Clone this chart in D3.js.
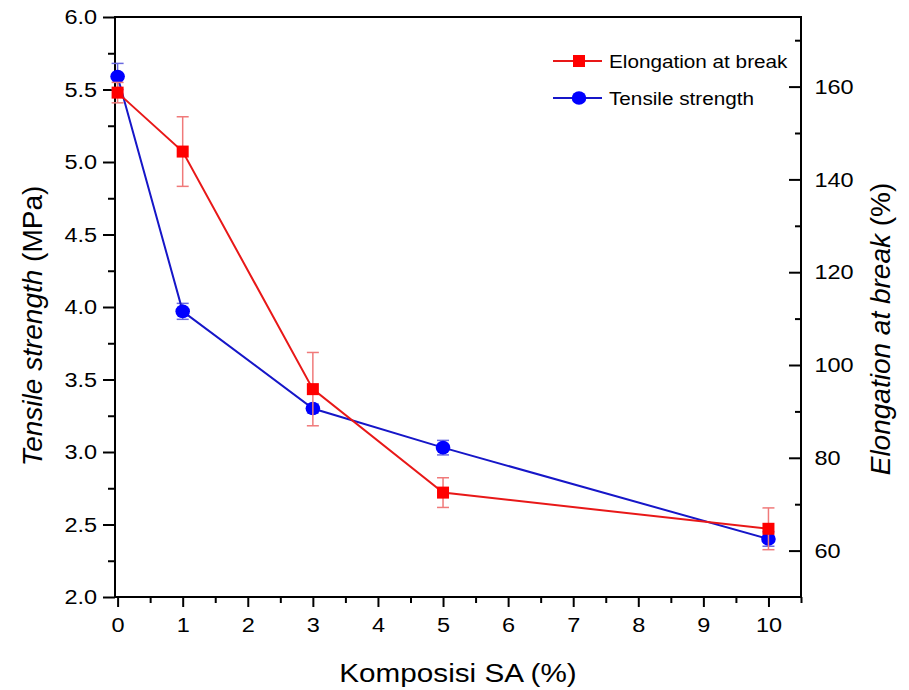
<!DOCTYPE html>
<html><head><meta charset="utf-8">
<script src="https://cdn.jsdelivr.net/npm/d3@7/dist/d3.min.js"></script>
<style>body{margin:0;background:#fff}svg{display:block}text{font-family:"Liberation Sans",Arial,sans-serif;fill:#000}</style>
</head><body><svg id="c" width="909" height="690"></svg>
<script>
const composition = [0, 1, 3, 5, 10];
const tensileStrength = [5.59, 3.97, 3.30, 3.03, 2.40];
const tensileErr = [0.09, 0.055, 0.03, 0.05, 0.05];
const elongation = [158.7, 146.0, 94.8, 72.5, 64.7];
const elongationErr = [2.2, 7.5, 7.9, 3.2, 4.5];
const xTicks = [0,1,2,3,4,5,6,7,8,9,10];
const xMinor = [0.5,1.5,2.5,3.5,4.5,5.5,6.5,7.5,8.5,9.5,10.5];
const leftTicks = [2.0,2.5,3.0,3.5,4.0,4.5,5.0,5.5,6.0];
const leftMinor = [2.25,2.75,3.25,3.75,4.25,4.75,5.25,5.75];
const rightTicks = [60,80,100,120,140,160];
const rightMinor = [70,90,110,130,150,170];

const svg = d3.select("#c");
const L = 115, R = 801, T = 17, B = 597;
const SX = 1.12;
const x = d3.scaleLinear().domain([-0.04, 10.5]).range([L, R]);
const yL = d3.scaleLinear().domain([2, 6]).range([B, T]);
const yR = d3.scaleLinear().domain([50, 175]).range([B, T]);

function styleAxis(g){
  g.select(".domain").remove();
  g.selectAll("line").attr("stroke","#000").attr("stroke-width",2);
  g.selectAll("text").attr("font-size",21).attr("transform","scale("+SX+",1)");
}
// minor ticks
svg.append("g").attr("transform",`translate(0,${B})`)
  .call(d3.axisBottom(x).tickValues(xMinor).tickSize(6).tickFormat(""))
  .call(styleAxis);
svg.append("g").attr("transform",`translate(${L},0)`)
  .call(d3.axisLeft(yL).tickValues(leftMinor).tickSize(7).tickFormat(""))
  .call(styleAxis);
svg.append("g").attr("transform",`translate(${R},0)`)
  .call(d3.axisLeft(yR).tickValues(rightMinor).tickSize(6).tickFormat(""))
  .call(styleAxis);
// major
svg.append("g").attr("transform",`translate(0,${B})`)
  .call(d3.axisBottom(x).tickValues(xTicks).tickSize(10).tickPadding(10).tickFormat(d3.format("d")))
  .call(styleAxis);
svg.append("g").attr("transform",`translate(${L},0)`)
  .call(d3.axisLeft(yL).tickValues(leftTicks).tickSize(12).tickPadding(4).tickFormat(d3.format(".1f")))
  .call(styleAxis);
const gr = svg.append("g").attr("transform",`translate(${R},0)`)
  .call(d3.axisRight(yR).tickValues(rightTicks).tickSize(0).tickPadding(12).tickFormat(d3.format("d")))
  .call(styleAxis);
svg.append("g").attr("transform",`translate(${R},0)`)
  .call(d3.axisLeft(yR).tickValues(rightTicks).tickSize(12).tickFormat(""))
  .call(styleAxis);
// frame
svg.append("rect").attr("x",L).attr("y",T).attr("width",R-L).attr("height",B-T)
  .attr("fill","none").attr("stroke","#000").attr("stroke-width",2);

function drawSeries(vals, errs, ys, lineCol, markCol, errCol, shape){
  const g = svg.append("g");
  const pts = composition.map((c,i)=>({x:c, y:vals[i], e:errs[i]}));
  const eg = g.append("g").attr("stroke",errCol).attr("stroke-width",1.5);
  pts.forEach(p=>{
    const cx = x(p.x);
    eg.append("line").attr("x1",cx).attr("x2",cx).attr("y1",ys(p.y+p.e)).attr("y2",ys(p.y-p.e));
    eg.append("line").attr("x1",cx-6).attr("x2",cx+6).attr("y1",ys(p.y+p.e)).attr("y2",ys(p.y+p.e));
    eg.append("line").attr("x1",cx-6).attr("x2",cx+6).attr("y1",ys(p.y-p.e)).attr("y2",ys(p.y-p.e));
  });
  g.append("path").datum(pts).attr("fill","none").attr("stroke",lineCol).attr("stroke-width",2)
    .attr("d", d3.line().x(d=>x(d.x)).y(d=>ys(d.y)));
  pts.forEach(p=>{
    if(shape==="square") g.append("rect").attr("x",x(p.x)-6).attr("y",ys(p.y)-6).attr("width",12).attr("height",12).attr("fill",markCol);
    else g.append("ellipse").attr("cx",x(p.x)).attr("cy",ys(p.y)).attr("rx",7.3).attr("ry",6.8).attr("fill",markCol);
  });
}
drawSeries(tensileStrength, tensileErr, yL, "#1616c8", "#0000ff", "#6a6ae0", "circle");
drawSeries(elongation, elongationErr, yR, "#e81818", "#ff0000", "#f07a7a", "square");

// legend
const leg = svg.append("g");
const legItems = [
  {label:"Elongation at break", line:"#e81818", mark:"#ff0000", shape:"square", y:61},
  {label:"Tensile strength", line:"#1616c8", mark:"#0000ff", shape:"circle", y:98}
];
legItems.forEach(it=>{
  leg.append("line").attr("x1",553).attr("x2",602).attr("y1",it.y).attr("y2",it.y).attr("stroke",it.line).attr("stroke-width",2);
  if(it.shape==="square") leg.append("rect").attr("x",573).attr("y",it.y-6).attr("width",12).attr("height",12).attr("fill",it.mark);
  else leg.append("ellipse").attr("cx",579).attr("cy",it.y).attr("rx",7.3).attr("ry",6.8).attr("fill",it.mark);
  leg.append("text").attr("transform",`translate(609,${it.y+7}) scale(${SX},1)`).attr("font-size",18.5).text(it.label);
});

// axis titles
const xt = svg.append("text").attr("transform",`translate(458,682) scale(${SX},1)`).attr("text-anchor","middle").attr("font-size",26.5);
xt.text("Komposisi SA (%)");
const lt = svg.append("text").attr("transform","translate(42,326) rotate(-90)").attr("text-anchor","middle").attr("font-size",28);
lt.append("tspan").attr("font-style","italic").text("Tensile strength");
lt.append("tspan").text(" (MPa)");
const rt = svg.append("text").attr("transform","translate(890,329) rotate(-90)").attr("text-anchor","middle").attr("font-size",28);
rt.append("tspan").attr("font-style","italic").text("Elongation at break");
rt.append("tspan").text(" (%)");
</script></body></html>
